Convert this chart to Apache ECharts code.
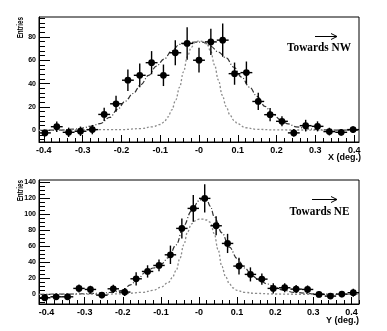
<!DOCTYPE html>
<html><head><meta charset="utf-8">
<script src="https://cdn.jsdelivr.net/npm/echarts@6/dist/echarts.min.js"></script>
<style>html,body{margin:0;padding:0;background:#fff}#c{width:387px;height:331px}</style>
</head><body><div id="c"></div>
<script>
// ---------- DATA ----------
// Top panel (Towards NW), X (deg.)
const topX = [-0.39722,-0.36667,-0.33611,-0.30556,-0.275,-0.24444,-0.21389,-0.18333,-0.15278,-0.12222,-0.09167,-0.06111,-0.03056,0,0.03056,0.06111,0.09167,0.12222,0.15278,0.18333,0.21389,0.24444,0.275,0.30556,0.33611,0.36667,0.39722];
const topY = [-2.2,3.1,-1.7,-0.8,0.6,13.6,22.7,42.9,47.1,57.9,47.1,66.4,74.4,60,75.7,77.2,48.5,49.4,24.7,13.4,7.7,-2.2,4,3.4,-1.1,-1.7,0.6];
const topErr = [3,4.5,4,4,4,5.7,6.8,9.2,10.2,9.9,9.2,10.8,13.9,10.6,11.3,14.2,9.5,9.5,7.4,5.7,4.3,3.4,5,4.3,3.3,2.8,2.8];
const topBroadX = [-0.4125,-0.36,-0.32,-0.3,-0.28,-0.255,-0.23,-0.21,-0.19,-0.17,-0.15,-0.13,-0.11,-0.09,-0.07,-0.05,-0.03,-0.01,0.01,0.03,0.05,0.07,0.09,0.11,0.13,0.15,0.17,0.19,0.21,0.23,0.25,0.28,0.32,0.36,0.4125];
const topBroadY = [0,0.2,1,2,3.5,5.7,11,18,25,31.5,39,47,55,61,68,73.5,75,75.5,75.5,72,67,62,54,45.5,37,29,20.5,14,9,5.5,3,1.2,0.4,0.1,0];
const topNarrowX = [-0.4125,-0.2,-0.15,-0.12,-0.1,-0.09,-0.08,-0.07,-0.06,-0.05,-0.04,-0.03,-0.02,-0.01,0,0.01,0.02,0.03,0.04,0.05,0.06,0.07,0.08,0.09,0.1,0.12,0.15,0.2,0.4125];
const topNarrowY = [0,0.6,1.5,3,5,7,11.5,17.5,26,37,50,63,71,75.5,76.5,76,74,68,56,43,30,20.4,13,8.5,5.5,2.2,0.8,0.3,0];

// Bottom panel (Towards NE), Y (deg.)
const botX = [-0.405,-0.375,-0.345,-0.315,-0.285,-0.255,-0.225,-0.195,-0.165,-0.135,-0.105,-0.075,-0.045,-0.015,0.015,0.045,0.075,0.105,0.135,0.165,0.195,0.225,0.255,0.285,0.315,0.345,0.375,0.405];
const botY = [-4.2,-3,-3,7.5,6.2,-0.9,7,2.9,19.5,28.7,36.2,49.5,82.5,107.5,120,85.8,63.7,35.4,25,19.1,7.5,8.3,6.6,6.2,0,-2.1,0.4,2.1];
const botErr = [4,4,4,5,4.6,4,5,5,8.3,7.7,7.3,11.5,12.5,16.7,17.7,11.9,12,10.4,8.8,6.9,6.3,5.6,5,5,4,3,4,5];
const botBroadX = [-0.42,-0.35,-0.3,-0.26,-0.23,-0.2,-0.18,-0.16,-0.14,-0.12,-0.1,-0.08,-0.06,-0.04,-0.02,0,0.01,0.02,0.03,0.04,0.06,0.08,0.1,0.12,0.14,0.16,0.18,0.2,0.22,0.25,0.3,0.35,0.42];
const botBroadY = [0,0.3,0.8,1.5,2.5,5,12,20,28,33,37.5,46,62,86,104,117,120,118.5,110,97,77,59,45,33,23,17,13,8.5,5.5,2.5,0.8,0.3,0];
const botNarrowX = [-0.42,-0.25,-0.2,-0.15,-0.12,-0.1,-0.08,-0.07,-0.06,-0.05,-0.04,-0.03,-0.02,-0.01,0,0.01,0.02,0.03,0.04,0.05,0.06,0.07,0.08,0.09,0.1,0.12,0.15,0.2,0.25,0.42];
const botNarrowY = [0,0.3,0.8,2.5,5,9,15,21,30,45,62,78,88,92,94,94,93,90,76,56,35,22,13,8,5,2.5,1.2,0.5,0.2,0];

// Tick labels
const xTicks = [-0.4,-0.3,-0.2,-0.1,0,0.1,0.2,0.3,0.4];
const xTickLabels = ['-0.4','-0.3','-0.2','-0.1','-0','0.1','0.2','0.3','0.4'];
const topYTicks = [0,20,40,60,80];
const botYTicks = [0,20,40,60,80,100,120,140];

// ---------- CHART ----------
function range(a, b, step, skip) {
  const out = [];
  for (let v = a; v <= b + 1e-9; v += step) {
    const r = Math.round(v * 1000) / 1000;
    if (!skip.some(s => Math.abs(s - r) < 1e-6)) out.push(r);
  }
  return out;
}
const xMinorTop = range(-0.4, 0.4, 0.02, xTicks);
const xMinorBot = range(-0.42, 0.42, 0.02, xTicks);
const yMinorTop = range(-8, 96, 4, topYTicks);
const yMinorBot = range(-10, 140, 5, botYTicks);

const labelFont = {fontFamily:'Liberation Sans', fontWeight:'bold', color:'#000'};
function xLab(v) {
  let best = 0;
  xTicks.forEach((t, i) => { if (Math.abs(t - v) < Math.abs(xTicks[best] - v)) best = i; });
  return xTickLabels[best];
}
function xAxes(gi, min, max, minor) {
  return [
    {gridIndex:gi, type:'value', min:min, max:max, position:'bottom',
     axisLine:{show:true, onZero:false, lineStyle:{color:'#000', width:1}},
     axisTick:{show:true, inside:true, length:7, customValues:xTicks, lineStyle:{color:'#000'}},
     axisLabel:Object.assign({show:true, fontSize:9, margin:4, customValues:xTicks, formatter:xLab}, labelFont),
     splitLine:{show:false}},
    {gridIndex:gi, type:'value', min:min, max:max, position:'bottom',
     axisLine:{show:false, onZero:false},
     axisTick:{show:true, inside:true, length:4, customValues:minor, lineStyle:{color:'#000'}},
     axisLabel:{show:false}, splitLine:{show:false}}
  ];
}
function yAxes(gi, min, max, major, minor, fs) {
  return [
    {gridIndex:gi, type:'value', min:min, max:max, position:'left',
     axisLine:{show:true, onZero:false, lineStyle:{color:'#000', width:1}},
     axisTick:{show:true, inside:true, length:11, customValues:major, lineStyle:{color:'#000'}},
     axisLabel:Object.assign({show:true, fontSize:fs, margin:3, customValues:major}, labelFont),
     splitLine:{show:false}},
    {gridIndex:gi, type:'value', min:min, max:max, position:'left',
     axisLine:{show:false, onZero:false},
     axisTick:{show:true, inside:true, length:6, customValues:minor, lineStyle:{color:'#000'}},
     axisLabel:{show:false}, splitLine:{show:false}}
  ];
}

function errRender(params, api) {
  const x = api.value(0), y = api.value(1), e = api.value(2), hw = api.value(3);
  const p = api.coord([x, y]);
  const pl = api.coord([x - hw, y]);
  const pr = api.coord([x + hw, y]);
  const pt = api.coord([x, y + e]);
  const pb = api.coord([x, y - e]);
  const st = {stroke:'#000', lineWidth:1.4};
  return {type:'group', children:[
    {type:'line', shape:{x1:pl[0], y1:p[1], x2:pr[0], y2:p[1]}, style:st},
    {type:'line', shape:{x1:p[0], y1:pt[1], x2:p[0], y2:pb[1]}, style:st},
    {type:'circle', shape:{cx:p[0], cy:p[1], r:3.4}, style:{fill:'#000'}}
  ]};
}
function pts(xs, ys, es) {
  const hw = (xs[1] - xs[0]) / 2;
  return xs.map((x, i) => [x, ys[i], es[i], hw]);
}
function zip(xs, ys) { return xs.map((x, i) => [x, ys[i]]); }
function curve(xi, yi, xs, ys, color, dash, w) {
  return {type:'line', xAxisIndex:xi, yAxisIndex:yi, data:zip(xs, ys), smooth:0.4, smoothMonotone:'x',
          showSymbol:false, symbol:'none', silent:true, clip:true,
          lineStyle:{color:color, width:w, type:dash}, z:2};
}

const chart = echarts.init(document.getElementById('c'), null, {renderer:'canvas'});
chart.setOption({
  animation:false,
  backgroundColor:'#fff',
  grid:[
    {left:39, top:17, width:320, height:125, show:true, borderColor:'#000', borderWidth:1, backgroundColor:'#fff'},
    {left:39, top:180, width:320, height:124, show:true, borderColor:'#000', borderWidth:1, backgroundColor:'#fff'}
  ],
  xAxis: xAxes(0, -0.4125, 0.4125, xMinorTop).concat(xAxes(1, -0.42, 0.42, xMinorBot)),
  yAxis: yAxes(0, -10, 97, topYTicks, yMinorTop, 7).concat(yAxes(1, -12, 143, botYTicks, yMinorBot, 7)),
  series:[
    curve(0, 0, topBroadX, topBroadY, '#333', [5,2,1,2], 1.2),
    curve(0, 0, topNarrowX, topNarrowY, '#8a8a8a', [2,2], 1.3),
    {type:'custom', xAxisIndex:0, yAxisIndex:0, renderItem:errRender, data:pts(topX, topY, topErr),
     encode:{x:0, y:1}, clip:true, z:3},
    curve(2, 2, botBroadX, botBroadY, '#333', [5,2,1,2], 1.2),
    curve(2, 2, botNarrowX, botNarrowY, '#8a8a8a', [2,2], 1.3),
    {type:'custom', xAxisIndex:2, yAxisIndex:2, renderItem:errRender, data:pts(botX, botY, botErr),
     encode:{x:0, y:1}, clip:true, z:3}
  ],
  graphic:[
    {type:'text', x:21, y:17, rotation:Math.PI/2, scaleX:0.7,
     style:{text:'Entries', fontSize:9, fontFamily:'Liberation Sans', fontWeight:'bold', fill:'#000',
            align:'right', verticalAlign:'middle', textAlign:'right', textVerticalAlign:'middle'}},
    {type:'text', x:21, y:180, rotation:Math.PI/2, scaleX:0.7,
     style:{text:'Entries', fontSize:9, fontFamily:'Liberation Sans', fontWeight:'bold', fill:'#000',
            align:'right', verticalAlign:'middle', textAlign:'right', textVerticalAlign:'middle'}},
    {type:'text', x:361, y:158,
     style:{text:'X (deg.)', fontSize:9, fontFamily:'Liberation Sans', fontWeight:'bold', fill:'#000',
            align:'right', verticalAlign:'middle', textAlign:'right', textVerticalAlign:'middle'}},
    {type:'text', x:359, y:321,
     style:{text:'Y (deg.)', fontSize:9, fontFamily:'Liberation Sans', fontWeight:'bold', fill:'#000',
            align:'right', verticalAlign:'middle', textAlign:'right', textVerticalAlign:'middle'}},
    {type:'text', x:319, y:47.5, scaleX:0.94,
     style:{text:'Towards NW', fontSize:12, fontFamily:'Liberation Serif', fontWeight:'bold', fill:'#000',
            align:'center', verticalAlign:'middle', textAlign:'center', textVerticalAlign:'middle'}},
    {type:'text', x:319.5, y:211.5, scaleX:0.94,
     style:{text:'Towards NE', fontSize:12, fontFamily:'Liberation Serif', fontWeight:'bold', fill:'#000',
            align:'center', verticalAlign:'middle', textAlign:'center', textVerticalAlign:'middle'}},
    {type:'line', shape:{x1:315, y1:36.5, x2:337, y2:36.5}, style:{stroke:'#000', lineWidth:1}},
    {type:'polyline', shape:{points:[[331,33.5],[337,36.5],[331,39.5]]}, style:{stroke:'#000', lineWidth:1, fill:null}},
    {type:'line', shape:{x1:312, y1:199.5, x2:337, y2:199.5}, style:{stroke:'#000', lineWidth:1}},
    {type:'polyline', shape:{points:[[331,196.5],[337,199.5],[331,202.5]]}, style:{stroke:'#000', lineWidth:1, fill:null}}
  ]
});
</script>
</body></html>
